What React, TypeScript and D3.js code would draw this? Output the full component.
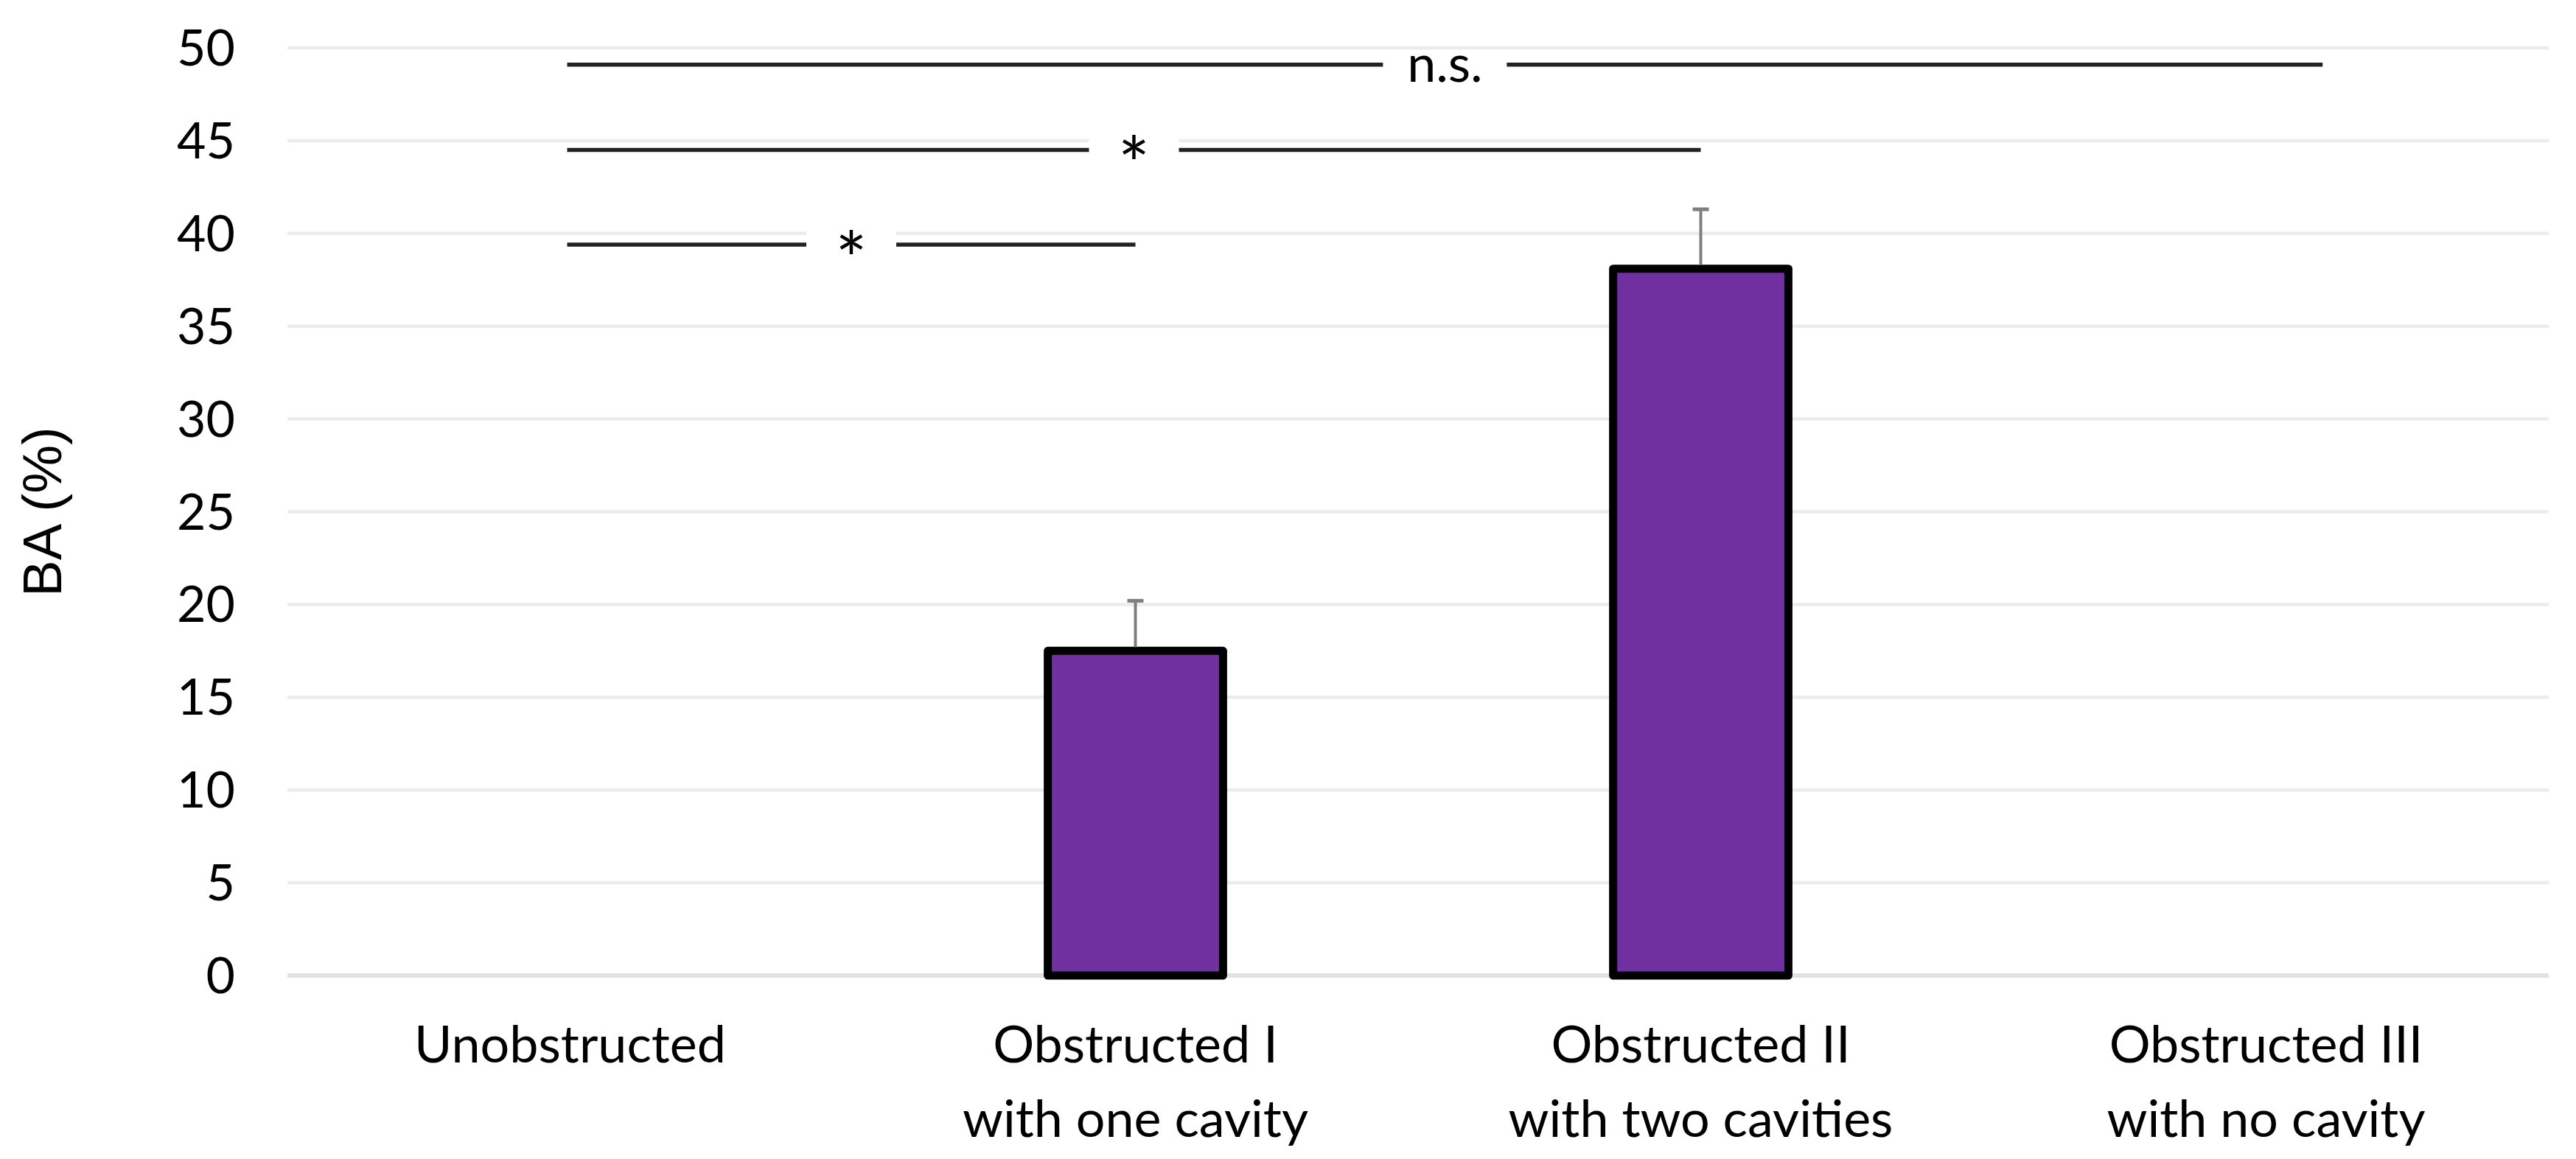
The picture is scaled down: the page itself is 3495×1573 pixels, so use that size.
import React from "react";
import * as d3 from "d3";

const categories: string[][] = [
  ["Unobstructed"],
  ["Obstructed I", "with one cavity"],
  ["Obstructed II", "with two cavities"],
  ["Obstructed III", "with no cavity"],
];
const values: (number | null)[] = [null, 17.5, 38.1, null];
const errors: (number | null)[] = [null, 2.7, 3.2, null];
const yTicks: number[] = [0, 5, 10, 15, 20, 25, 30, 35, 40, 45, 50];
const yTitle = "BA (%)";

// comparisons: from/to in category-index units, y in data units
const comparisonFrom: number[] = [0, 0, 0];
const comparisonTo: number[] = [1, 2, 3.1];
const comparisonY: number[] = [39.4, 44.5, 49.1];
const comparisonLabel: string[] = ["*", "*", "n.s."];

const W = 3495;
const H = 1573;
const M = { left: 390, right: 37, top: 65, bottom: 249 };

const FONT = "Lato, 'Open Sans', sans-serif";

export default function App() {
  const innerW = W - M.left - M.right;
  const x = d3
    .scaleBand<number>()
    .domain(categories.map((_, i) => i))
    .range([M.left, W - M.right])
    .paddingInner(0.69)
    .paddingOuter(0.345);
  const y = d3.scaleLinear().domain([0, 50]).range([H - M.bottom, M.top]);
  const bw = x.bandwidth();
  const center = (i: number) => (x(i) as number) + bw / 2;
  const xIdx = d3.scaleLinear().domain([0, 3]).range([center(0), center(3)]);

  return (
    <svg
      width={W}
      height={H}
      viewBox={`0 0 ${W} ${H}`}
      style={{ position: "absolute", left: 0, top: 0, background: "#fff" }}
    >
      <rect x={0} y={0} width={W} height={H} fill="#fff" />
      {/* gridlines */}
      {yTicks.map((t) => (
        <line
          key={"g" + t}
          x1={M.left}
          x2={M.left + innerW}
          y1={y(t)}
          y2={y(t)}
          stroke={t === 0 ? "#e2e2e2" : "#ececec"}
          strokeWidth={t === 0 ? 6 : 4.5}
        />
      ))}
      {/* tick labels */}
      {yTicks.map((t) => (
        <text
          key={"t" + t}
          x={319}
          y={y(t) + 24}
          textAnchor="end"
          fontFamily={FONT}
          fontSize={68}
          fill="#000"
        >
          {t}
        </text>
      ))}
      {/* y title */}
      <text
        transform={`translate(83, ${(y(0) + y(50)) / 2}) rotate(-90)`}
        textAnchor="middle"
        fontFamily="'Liberation Sans', Arial, sans-serif"
        fontSize={74}
        fill="#000"
      >
        {yTitle}
      </text>
      {/* bars */}
      {values.map((v, i) =>
        v == null ? null : (
          <rect
            key={"b" + i}
            x={x(i)}
            y={y(v)}
            width={bw}
            height={y(0) - y(v)}
            fill="#7030A0"
            stroke="#000"
            strokeWidth={11}
            strokeLinejoin="round"
          />
        )
      )}
      {/* error bars */}
      {values.map((v, i) => {
        const e = errors[i];
        if (v == null || e == null) return null;
        const cx = center(i);
        return (
          <g key={"e" + i}>
            <line x1={cx} x2={cx} y1={y(v) - 5} y2={y(v + e)} stroke="#7f7f7f" strokeWidth={4} />
            <line x1={cx - 11} x2={cx + 11} y1={y(v + e)} y2={y(v + e)} stroke="#7f7f7f" strokeWidth={5} />
          </g>
        );
      })}
      {/* significance lines */}
      {comparisonLabel.map((lab, k) => {
        const x1 = xIdx(comparisonFrom[k]) - 4;
        const x2 = xIdx(comparisonTo[k]);
        const yy = y(comparisonY[k]);
        const mid = (x1 + x2) / 2;
        const half = Math.max(61, lab.length * 21);
        const isStar = lab === "*";
        return (
          <g key={"c" + k}>
            <rect x={mid - half} y={yy - 18} width={half * 2} height={40} fill="#fff" />
            <line x1={x1} x2={mid - half} y1={yy} y2={yy} stroke="#222" strokeWidth={5.5} />
            <line x1={mid + half} x2={x2} y1={yy} y2={yy} stroke="#222" strokeWidth={5.5} />
            <text
              x={mid}
              y={isStar ? yy + 57 : yy + 23}
              textAnchor="middle"
              fontFamily={FONT}
              fontSize={isStar ? 102 : 70}
              fill="#000"
            >
              {lab}
            </text>
          </g>
        );
      })}
      {/* x labels */}
      {categories.map((lines, i) => (
        <text key={"x" + i} textAnchor="middle" fontFamily={FONT} fontSize={70} fill="#000">
          {lines.map((ln, j) => (
            <tspan key={j} x={center(i)} y={1442 + j * 101}>
              {ln}
            </tspan>
          ))}
        </text>
      ))}
    </svg>
  );
}
